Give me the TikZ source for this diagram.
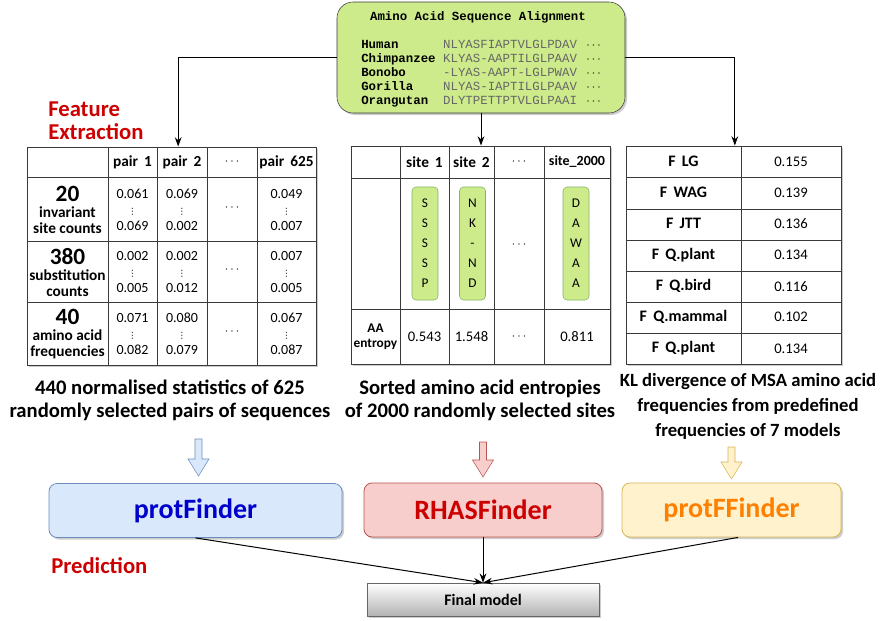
\documentclass[tikz,border=0pt]{standalone}
\usepackage{fontspec}
\setmainfont{Carlito}
\setmonofont{Liberation Mono}
\newfontfamily\symfont{DejaVu Sans}
\usepackage{tikz}
\usetikzlibrary{arrows.meta, positioning, calc, fit, shadows}

\definecolor{alnfill}{HTML}{CDEB8B}
\definecolor{alnline}{HTML}{36393D}
\definecolor{pillline}{HTML}{82B366}
\definecolor{bluefill}{HTML}{DAE8FC}
\definecolor{blueline}{HTML}{6C8EBF}
\definecolor{bluetext}{HTML}{0000CC}
\definecolor{redfill}{HTML}{F8CECC}
\definecolor{redline}{HTML}{B85450}
\definecolor{redtext}{HTML}{CC0000}
\definecolor{yelfill}{HTML}{FFF2CC}
\definecolor{yelline}{HTML}{D6B656}
\definecolor{orangetext}{HTML}{FF8000}
\definecolor{seqgray}{HTML}{666666}
\definecolor{gridline}{HTML}{3A3A3A}

\newcommand{\fsz}[2]{\fontsize{#1}{#2}\selectfont}
\newcommand{\ellip}{{\fsz{9pt}{10pt}$\cdots$}}
\newcommand{\vd}{{\symfont\fsz{6.5pt}{12pt}⋮}}
% hollow block arrow: style, x, top, tip
\newcommand{\downblock}[4]{%
  \draw[#1] (#2-3.5,#3) -- (#2+3.5,#3) -- (#2+3.5,#4-17) -- (#2+10.5,#4-17)
    -- (#2,#4) -- (#2-10.5,#4-17) -- (#2-3.5,#4-17) -- cycle;}

\tikzset{
  softshadow/.style={drop shadow={shadow xshift=1.5pt, shadow yshift=-1.5pt,
      opacity=0.2, fill=black}},
  alignbox/.style={rectangle, rounded corners=12pt, draw=alnline, fill=alnfill,
    inner sep=0pt, softshadow},
  tableframe/.style={rectangle, draw=gridline, fill=white, inner sep=0pt,
    line width=0.6pt, softshadow},
  gridrule/.style={draw=gridline, line width=0.6pt},
  headcell/.style={font=\fsz{11.5pt}{13pt}\bfseries},
  rowlabel/.style={align=center, font=\fsz{11.5pt}{12pt}\bfseries},
  valcell/.style={align=center, font=\fsz{10.5pt}{12pt}},
  pill/.style={rectangle, rounded corners=3pt, draw=pillline, fill=alnfill,
    minimum width=19.5pt, minimum height=84.75pt, align=center,
    font=\fsz{10pt}{15pt}},
  klname/.style={font=\fsz{12pt}{14pt}\bfseries},
  klval/.style={font=\fsz{11pt}{13pt}},
  captext/.style={align=center, font=\fsz{15.5pt}{17.25pt}\bfseries},
  redlabel/.style={align=left, inner sep=0pt, text=redtext,
    font=\fsz{17pt}{17.25pt}\bfseries},
  modelbox/.style={rectangle, rounded corners=6pt, inner sep=0pt,
    line width=0.6pt, minimum height=40.5pt,
    font=\fsz{21pt}{24pt}\bfseries, softshadow},
  finalbox/.style={rectangle, draw=black!60, top color=white,
    bottom color=black!30, inner sep=0pt, minimum width=174pt,
    minimum height=24.75pt, font=\fsz{12pt}{14pt}\bfseries, softshadow},
  arrow/.style={-{Stealth[length=7pt, width=5pt]}, line width=0.75pt},
}

\begin{document}
\begin{tikzpicture}[x=0.75pt, y=-0.75pt]
  \useasboundingbox (0,0) rectangle (889,621);

  % alignment
  \node (aln) [alignbox, fit={(337,2) (625,113)}] {};
  \node (alntitle) [font=\fsz{9.3pt}{10.5pt}\ttfamily\bfseries] at (478,17)
    {Amino Acid Sequence Alignment};
  \node (alnrows) [anchor=north west, inner sep=0pt,
    font=\fsz{9.3pt}{10.5pt}\ttfamily] at (361,38.3) {%
    \begin{tabular}{@{}l@{\hspace{5.6pt}}l@{\hspace{7pt}}l@{}}
      \textbf{Human}      & \textcolor{seqgray}{NLYASFIAPTVLGLPDAV} & \ellip\\
      \textbf{Chimpanzee} & \textcolor{seqgray}{KLYAS-AAPTILGLPAAV} & \ellip\\
      \textbf{Bonobo}     & \textcolor{seqgray}{-LYAS-AAPT-LGLPWAV} & \ellip\\
      \textbf{Gorilla}    & \textcolor{seqgray}{NLYAS-IAPTILGLPAAV} & \ellip\\
      \textbf{Orangutan}  & \textcolor{seqgray}{DLYTPETTPTVLGLPAAI} & \ellip
    \end{tabular}};

  \node (featlbl) [redlabel, anchor=west] at (48,120.5) {Feature\\Extraction};

  % pair statistics
  \node (pairtab) [tableframe, fit={(27,147) (316,365)}] {};
  \foreach \x in {108,157,207,257} \draw[gridrule] (\x,147) -- (\x,365);
  \foreach \y in {177,241,302} \draw[gridrule] (27,\y) -- (316,\y);
  \node (ph1) [headcell] at (132.5,162) {pair\ \,1};
  \node (ph2) [headcell] at (182,162) {pair\ \,2};
  \node (ph3) [headcell] at (232,162) {\ellip};
  \node (ph4) [headcell] at (286.5,162) {pair\ \,625};
  \node (pl1) [rowlabel] at (67.5,210) {{\fsz{17.5pt}{12pt}20}\\invariant\\site counts};
  \node (pl2) [rowlabel] at (67.5,272) {{\fsz{17.5pt}{12pt}380}\\substitution\\counts};
  \node (pl3) [rowlabel] at (67.5,334) {{\fsz{17.5pt}{12pt}40}\\amino acid\\frequencies};
  \foreach \n/\cx/\ua/\ub/\uc/\ud/\ue/\uf in
      {1/132.5/0.061/0.069/0.002/0.005/0.071/0.082,
       2/182/0.069/0.002/0.002/0.012/0.080/0.079,
       625/286.5/0.049/0.007/0.007/0.005/0.067/0.087} {
    \node (pv\n-1) [valcell] at (\cx,210) {\ua\\\vd\\\ub};
    \node (pv\n-2) [valcell] at (\cx,272) {\uc\\\vd\\\ud};
    \node (pv\n-3) [valcell] at (\cx,334) {\ue\\\vd\\\uf};
  }
  \foreach \r/\y in {1/208,2/270,3/332}
    \node (pdots\r) [valcell] at (232,\y) {\ellip};

  % site entropies
  \node (sitetab) [tableframe, fit={(351,146) (610,364)}] {};
  \foreach \x in {400,449,494,544} \draw[gridrule] (\x,146) -- (\x,364);
  \foreach \y in {178,309} \draw[gridrule] (351,\y) -- (610,\y);
  \node (sh1) [headcell] at (424.5,162) {site\ \,1};
  \node (sh2) [headcell] at (471.5,162) {site\ \,2};
  \node (sh3) [headcell] at (519,162) {\ellip};
  \node (sh4) [headcell, font=\fsz{10.5pt}{13pt}\bfseries] at (577,162) {site\_2000};
  \node (pill1) [pill] at (425,243.5) {S\\S\\S\\S\\P};
  \node (pill2) [pill] at (472.5,243.5) {N\\K\\-\\N\\D};
  \node (pilldots) [valcell] at (519,245) {\ellip};
  \node (pill3) [pill] at (576,243.5) {D\\A\\W\\A\\A};
  \node (entlbl) [align=center, font=\fsz{10pt}{11.5pt}\bfseries] at (375.5,336.5) {AA\\entropy};
  \node (ent1) [valcell, font=\fsz{11pt}{13pt}] at (424.5,336.5) {0.543};
  \node (ent2) [valcell, font=\fsz{11pt}{13pt}] at (471.5,336.5) {1.548};
  \node (ent3) [valcell] at (519,336.5) {\ellip};
  \node (ent4) [valcell, font=\fsz{11pt}{13pt}] at (577,336.5) {0.811};

  % KL divergences
  \node (kltab) [tableframe, fit={(626,146) (841,364)}] {};
  \draw[gridrule] (741,146) -- (741,364);
  \foreach \y in {177,209,240,271,302,333} \draw[gridrule] (626,\y) -- (841,\y);
  \foreach \i/\m/\v in {1/LG/0.155, 2/WAG/0.139, 3/JTT/0.136, 4/Q.plant/0.134,
                        5/Q.bird/0.116, 6/Q.mammal/0.102, 7/Q.plant/0.134} {
    \node (kn\i) [klname] at (683.5,{146+(\i-0.5)*31.14}) {F\ \,\m};
    \node (kv\i) [klval] at (791,{146+(\i-0.5)*31.14}) {\v};
  }

  \draw [arrow] (aln.west) -| ([xshift=5pt]pairtab.north);
  \draw [arrow] (aln.south) -- (aln.south |- sitetab.north);
  \draw [arrow] (aln.east) -| ([xshift=1pt]kltab.north);

  % captions
  \node (cap1) [captext] at (170,400.5)
    {440 normalised statistics of 625\\randomly selected pairs of sequences};
  \node (cap2) [captext] at (480,400.5)
    {Sorted amino acid entropies\\of 2000 randomly selected sites};
  \node (cap3) [captext, font=\fsz{14pt}{19pt}\bfseries] at (748,406.5)
    {KL divergence of MSA amino acid\\frequencies from predefined\\frequencies of 7 models};

  \downblock{draw=blueline, fill=bluefill}{198.5}{439}{476}
  \downblock{draw=redline, fill=redfill}{483}{442}{477}
  \downblock{draw=yelline, fill=yelfill}{731.5}{447}{479}

  % predictors
  \node (protf) [modelbox, draw=blueline, fill=bluefill, text=bluetext,
    minimum width=219.75pt] at (195.5,510.5) {protFinder};
  \node (rhasf) [modelbox, draw=redline, fill=redfill, text=redtext,
    minimum width=178.5pt] at (483,510) {RHASFinder};
  \node (protff) [modelbox, draw=yelline, fill=yelfill, text=orangetext,
    minimum width=164.25pt] at (731.5,510) {protFFinder};
  \node (predlbl) [redlabel, anchor=west] at (51,566) {Prediction};
  \node (final) [finalbox] at (483,599.5) {Final model};

  \draw [arrow] (protf.south) -- (final.north);
  \draw [arrow] (rhasf.south) -- (final.north);
  \draw [arrow] ([xshift=5pt]protff.south) -- (final.north);
\end{tikzpicture}
\end{document}
